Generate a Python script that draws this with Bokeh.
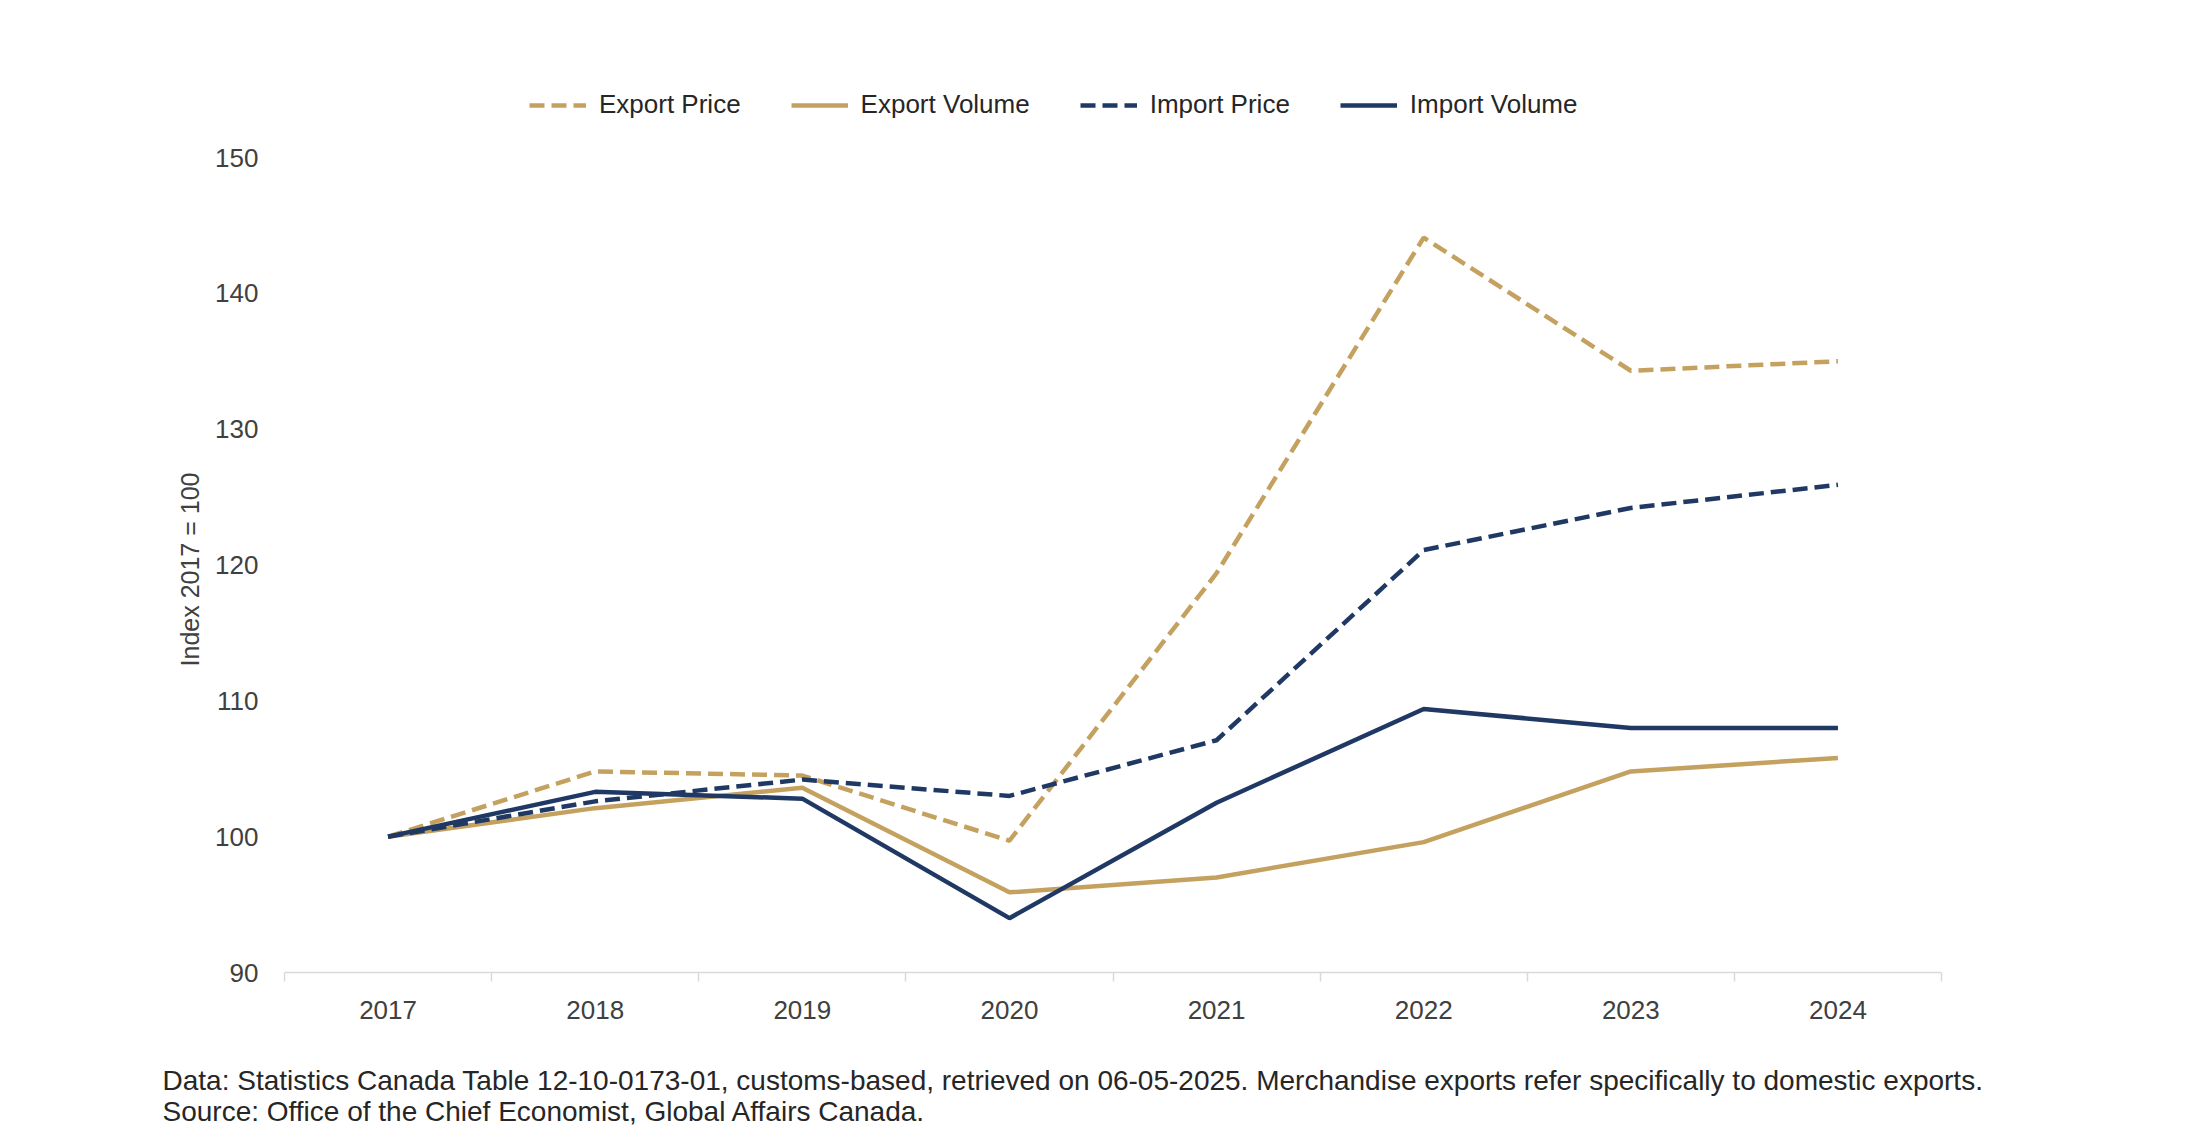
from bokeh.plotting import figure
from bokeh.models import (Range1d, LinearAxis, FixedTicker, Legend, LegendItem,
                          Label, ColumnDataSource)
from bokeh.embed import file_html
from bokeh.resources import INLINE

# ---- data ----
years = ["2017", "2018", "2019", "2020", "2021", "2022", "2023", "2024"]
export_price = [100.0, 104.8, 104.5, 99.7, 119.4, 144.1, 134.3, 135.0]
export_volume = [100.0, 102.1, 103.6, 95.9, 97.0, 99.6, 104.8, 105.8]
import_price = [100.0, 102.6, 104.2, 103.0, 107.1, 121.1, 124.2, 125.9]
import_volume = [100.0, 103.3, 102.8, 94.0, 102.5, 109.4, 108.0, 108.0]
y_ticks = [90, 100, 110, 120, 130, 140, 150]
series_names = ["Export Price", "Export Volume", "Import Price", "Import Volume"]
footnote_1 = ("Data: Statistics Canada Table 12-10-0173-01, customs-based, retrieved on "
              "06-05-2025. Merchandise exports refer specifically to domestic exports.")
footnote_2 = "Source: Office of the Chief Economist, Global Affairs Canada."
y_title = "Index 2017 = 100"

GOLD = "#C4A15F"
NAVY = "#1F3864"
FONT = "Liberation Sans"

# ---- layout (pixels) ----
W, H = 2204, 1138                 # canvas
PLOT_L, PLOT_R = 284, 1941        # x-axis extent
PLOT_T, PLOT_B = 157, 972         # y=150 and y=90

n = len(years)
x_pos = [i + 0.5 for i in range(n)]      # category centres; category i spans [i, i+1]
boundaries = list(range(n + 1))

px_per_x = (PLOT_R - PLOT_L) / n
px_per_y = (PLOT_B - PLOT_T) / (y_ticks[-1] - y_ticks[0])
x_range = Range1d(-PLOT_L / px_per_x, (W - PLOT_L) / px_per_x)
y_range = Range1d(y_ticks[0] - (H - PLOT_B) / px_per_y, y_ticks[-1] + PLOT_T / px_per_y)

src = ColumnDataSource(dict(x=x_pos, ep=export_price, ev=export_volume,
                            ip=import_price, iv=import_volume))

p = figure(frame_width=W, frame_height=H, min_border=0,
           x_range=x_range, y_range=y_range,
           x_axis_type=None, y_axis_type=None,
           output_backend="svg", toolbar_location=None)
p.outline_line_color = None
p.background_fill_color = "white"
p.border_fill_color = "white"

# x axis (Excel style: ticks between categories)
xaxis = LinearAxis(fixed_location=y_ticks[0], bounds=(0, n),
                   ticker=FixedTicker(ticks=x_pos, minor_ticks=boundaries),
                   major_label_overrides={x: y for x, y in zip(x_pos, years)})
xaxis.axis_line_color = "#D9D9D9"
xaxis.axis_line_width = 1.5
xaxis.major_tick_line_color = None
xaxis.major_tick_out = 0
xaxis.major_tick_in = 0
xaxis.minor_tick_line_color = "#D9D9D9"
xaxis.minor_tick_line_width = 1.5
xaxis.minor_tick_out = 9
xaxis.minor_tick_in = 0
xaxis.major_label_text_font = FONT
xaxis.major_label_text_font_size = "26px"
xaxis.major_label_text_color = "#404040"
xaxis.major_label_standoff = 19
p.add_layout(xaxis, "below")

# y axis
yaxis = LinearAxis(fixed_location=0, ticker=FixedTicker(ticks=y_ticks), axis_label=y_title)
yaxis.axis_line_color = None
yaxis.major_tick_line_color = None
yaxis.minor_tick_line_color = None
yaxis.major_tick_out = 0
yaxis.major_tick_in = 0
yaxis.major_label_text_font = FONT
yaxis.major_label_text_font_size = "26px"
yaxis.major_label_text_color = "#404040"
yaxis.major_label_standoff = 26
yaxis.axis_label_text_font = FONT
yaxis.axis_label_text_font_size = "25px"
yaxis.axis_label_text_font_style = "normal"
yaxis.axis_label_text_color = "#404040"
yaxis.axis_label_standoff = 8
p.add_layout(yaxis, "left")

# lines
r_ep = p.line("x", "ep", source=src, line_color=GOLD, line_width=4.5, line_dash="15 7")
r_ev = p.line("x", "ev", source=src, line_color=GOLD, line_width=4.5)
r_ip = p.line("x", "ip", source=src, line_color=NAVY, line_width=4.5, line_dash="15 7")
r_iv = p.line("x", "iv", source=src, line_color=NAVY, line_width=4.5)

legend = Legend(items=[LegendItem(label=nm, renderers=[r]) for nm, r in
                       zip(series_names, [r_ep, r_ev, r_ip, r_iv])],
                orientation="horizontal", location=(529, H - 120),
                glyph_width=57, glyph_height=26, label_standoff=13, spacing=50,
                padding=0, margin=0, border_line_color=None,
                background_fill_alpha=0,
                label_text_font=FONT, label_text_font_size="26px",
                label_text_color="#262626")
p.add_layout(legend)

# footnotes
for txt, yc in [(footnote_1, 1080), (footnote_2, 1111)]:
    p.add_layout(Label(x=162, y=H - yc, x_units="screen", y_units="screen", text=txt,
                       text_font=FONT, text_font_size="28px", text_color="#262626",
                       text_baseline="middle", text_align="left"))

open("out.html", "w").write(file_html(p, INLINE))
